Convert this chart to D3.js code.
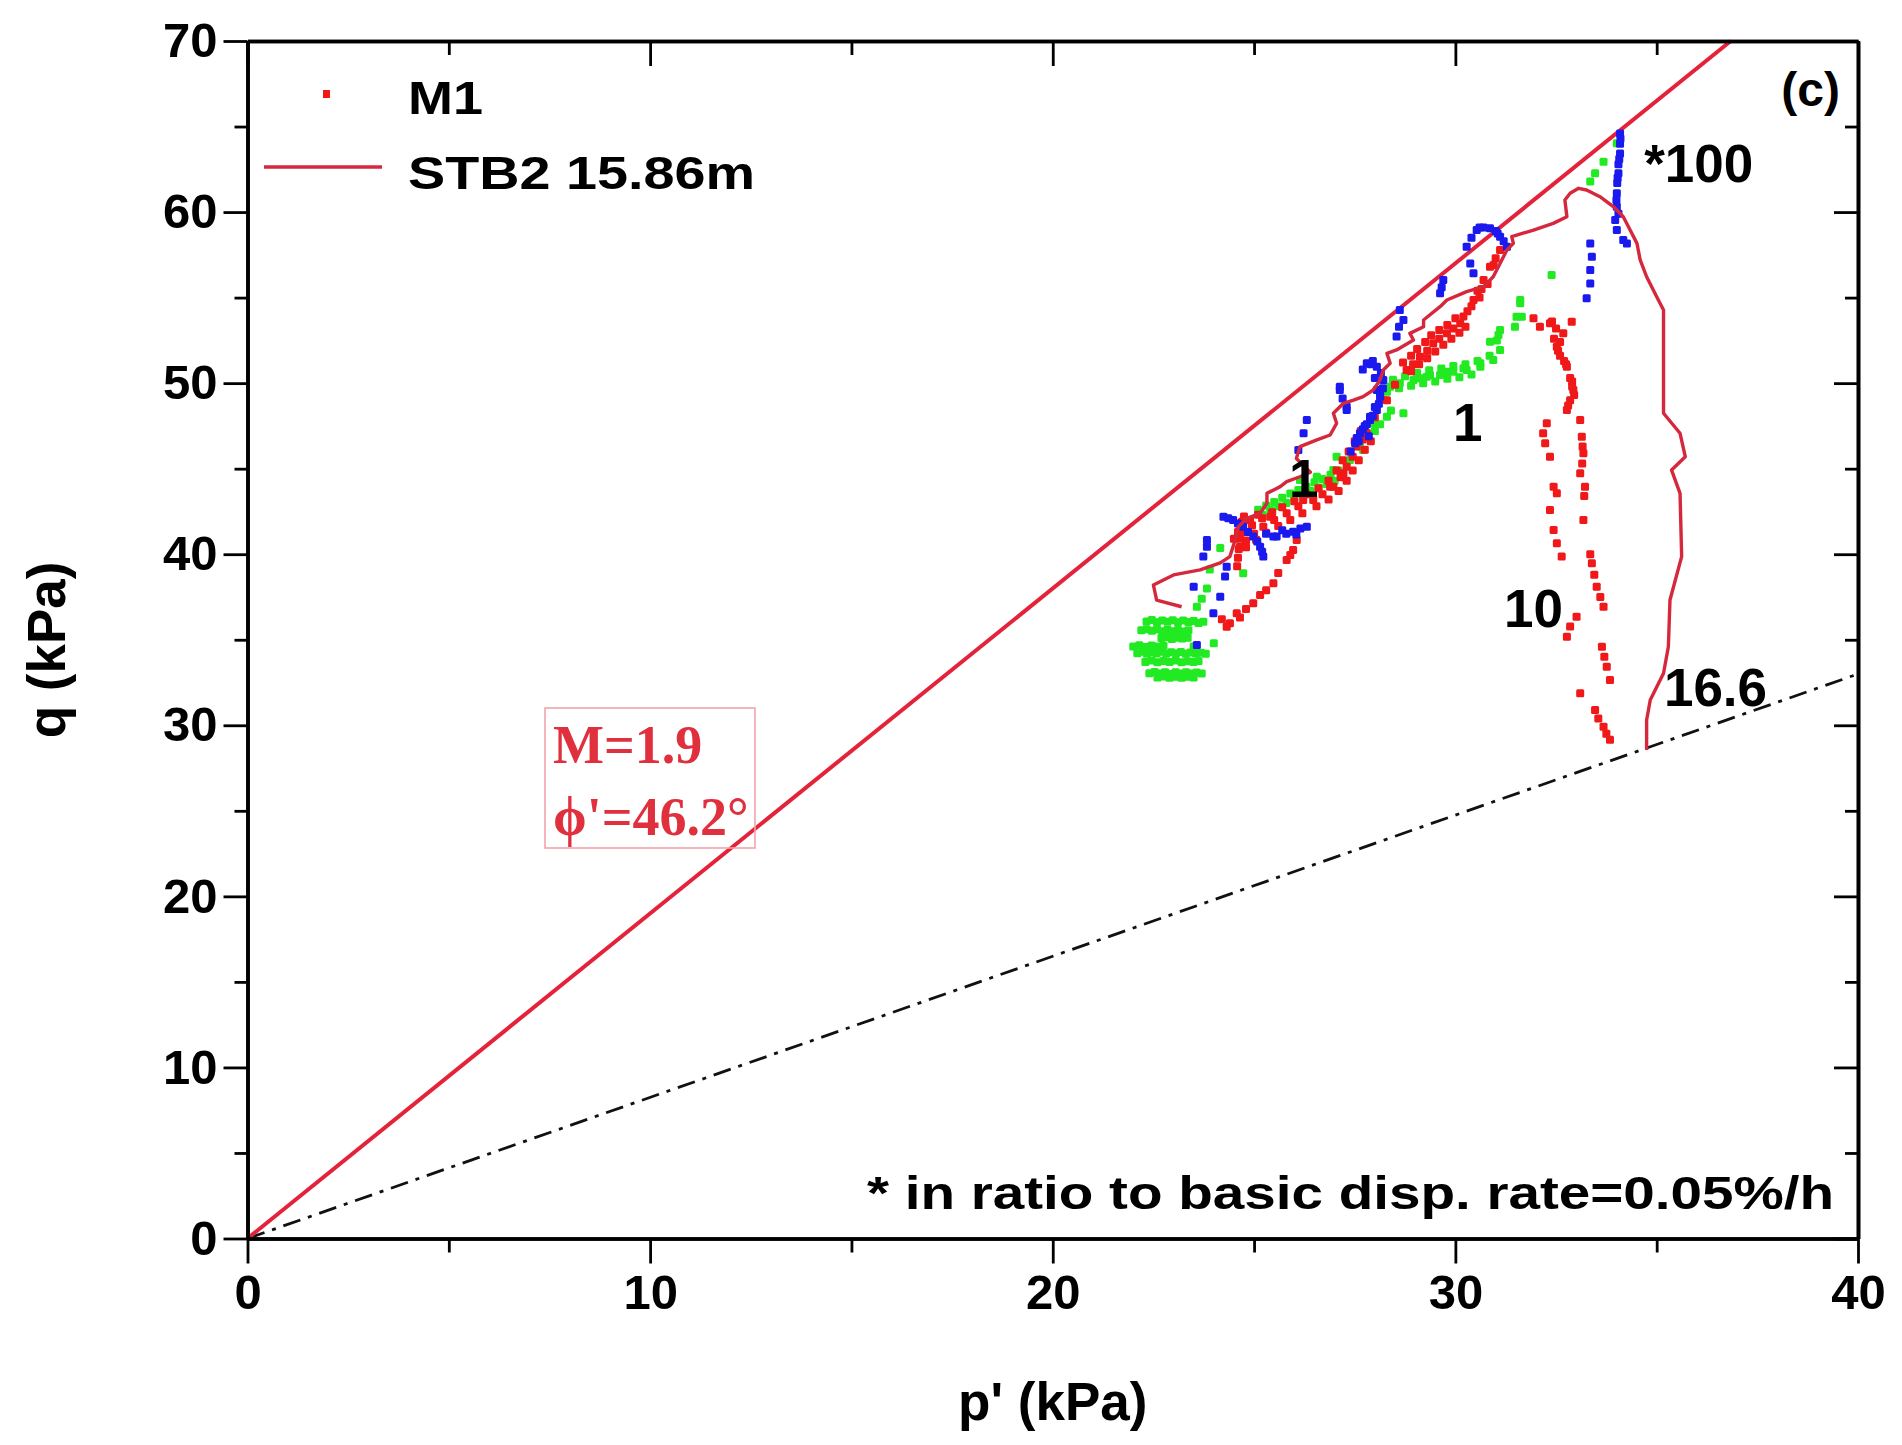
<!DOCTYPE html>
<html><head><meta charset="utf-8">
<script src="https://cdn.jsdelivr.net/npm/d3@7"></script>
<style>html,body{margin:0;padding:0;background:#fff;} svg{display:block;}</style>
</head><body>
<svg id="chart" width="1902" height="1445"></svg>
<script>
// ---------- data ----------
const xTicks = [0, 10, 20, 30, 40];
const xMinorTicks = [5, 15, 25, 35];
const yTicks = [0, 10, 20, 30, 40, 50, 60, 70];
const yMinorTicks = [5, 15, 25, 35, 45, 55, 65];
const xLabel = "p' (kPa)";
const yLabel = "q (kPa)";
const legendNames = ["M1", "STB2 15.86m"];

// critical state line M = 1.9 and dash-dot reference line
const cslLine = [[0, 0], [36.84, 70]];
const dashLine = [[0, 0], [40, 33]];

// STB2 15.86m stress path
const stb2 = [
 [23.20,36.93],[22.58,37.32],[22.50,38.20],[23.00,38.79],[23.66,39.08],[24.16,39.49],[24.40,39.86],
 [24.53,40.83],[24.61,41.61],[24.82,42.10],[25.15,42.39],[25.32,42.98],[25.32,43.56],[25.65,43.95],
 [25.81,44.24],[26.14,44.53],[26.40,44.80],[26.05,45.60],[26.14,46.29],[26.56,46.68],[26.89,46.97],
 [27.05,47.65],[26.97,48.24],[27.22,48.82],[27.47,49.01],[27.71,49.21],[27.96,49.60],[28.13,50.18],
 [28.21,50.77],[28.38,51.16],[28.30,51.74],[28.54,51.94],[28.96,52.52],[28.87,52.91],[29.21,53.30],
 [29.21,53.69],[29.62,54.47],[29.79,54.86],[30.28,55.35],[30.70,55.64],[30.94,56.22],[31.11,57.00],
 [31.28,57.78],[31.44,58.17],[31.40,58.56],[31.94,58.95],[32.43,59.34],[32.77,59.73],[32.72,60.71],
 [32.85,61.10],[33.06,61.39],[33.26,61.29],[33.59,60.90],[33.93,60.31],[34.17,59.73],[34.34,58.95],
 [34.51,58.17],[34.59,57.20],[34.75,56.22],[35.00,55.05],[35.17,54.28],[35.17,48.24],[35.58,47.07],
 [35.71,45.70],[35.37,44.92],[35.58,43.56],[35.62,39.86],[35.33,37.32],[35.29,34.59],[35.17,33.04],
 [34.84,31.48],[34.75,30.31],[34.75,28.56]
];

// M1 points, red
const m1Red = [
 [24.20,36.20],[24.32,35.76],[24.40,35.96],[24.57,36.55],[24.65,36.30],[24.80,36.80],[24.98,37.13],[25.15,37.62],
 [25.30,37.90],[25.48,38.30],[25.60,38.90],
 [25.81,39.66],[25.90,39.95],[25.97,40.25],[26.06,40.83],
 [24.58,39.30],[24.60,39.80],[24.62,40.30],[24.65,40.90],
 [24.65,40.44],[24.80,40.80],[25.00,41.20],[25.23,41.61],[25.50,42.00],[25.81,42.39],[26.10,42.80],[26.47,43.17],
 [26.70,43.50],[26.97,43.95],[27.15,44.50],[27.30,45.12],[27.45,45.70],[27.55,46.29],[27.70,46.70],[27.80,47.07],
 [24.50,40.90],[24.75,41.30],[24.95,41.70],[25.20,42.10],[25.45,42.45],[25.70,42.75],[26.00,43.10],[26.30,43.50],
 [26.60,43.85],[26.85,44.30],[27.05,44.90],[27.20,45.50],[27.35,46.00],[27.50,46.60],[27.65,47.20],
 [24.80,40.40],[25.05,40.85],[25.30,41.25],[25.60,41.65],[25.90,42.00],[26.20,42.40],[26.55,42.80],[26.85,43.20],
 [27.10,43.70],[27.30,44.30],[27.45,44.90],[27.60,45.50],[27.75,46.10],[27.90,46.60],
 [25.40,42.19],[26.22,43.17],[26.89,43.95],[27.22,44.73],[27.72,46.87],
 [24.90,42.00],[25.10,42.30],[24.70,41.90],[24.60,41.30],[24.75,42.20],
 [28.00,48.00],[28.30,49.00],[28.50,49.90],
 [28.79,50.77],[28.95,51.10],[29.12,51.55],[29.30,51.90],[29.45,52.33],[29.60,52.60],[29.79,52.91],[29.95,53.20],[30.12,53.50],
 [28.70,51.20],[28.90,51.60],[29.05,52.00],[29.25,52.40],[29.40,52.80],[29.60,53.10],[29.80,53.40],[30.00,53.80],
 [28.90,50.70],[29.10,51.10],[29.30,51.45],[29.50,51.85],[29.70,52.25],[29.90,52.60],[30.10,52.95],[30.25,53.30],
 [30.30,54.20],[30.45,54.86],[30.55,55.40],[30.70,56.03],[30.86,56.81],[31.00,57.30],[31.11,57.78],[30.60,55.00],[30.80,55.80],
 [30.20,53.90],[30.40,54.50],[30.65,55.50],[30.95,56.90],
 // right descending path
 [31.94,53.79],[32.10,53.30],[32.35,53.50],[32.40,53.60],[32.89,53.59],[32.68,52.91],[32.50,53.20],[32.45,52.60],
 [32.52,52.13],[32.55,51.90],[32.60,51.60],[32.70,51.30],[32.77,50.96],[32.85,50.30],[32.90,50.10],[32.93,49.60],
 [32.95,49.30],[32.85,49.00],[32.80,48.70],[32.77,48.43],[32.60,52.40],[32.75,51.10],[32.90,49.80],
 [33.10,47.85],[33.14,46.87],[33.16,46.30],[33.18,45.90],
 [33.15,45.30],[33.10,44.73],[33.22,43.95],[33.20,43.40],[33.18,42.00],[33.35,40.00],[33.39,39.47],[33.45,38.80],
 [33.51,38.10],[33.60,37.50],[33.68,36.93],[33.64,34.59],[33.70,34.00],[33.76,33.42],[33.84,32.65],[33.47,30.89],
 [33.55,30.40],[33.68,29.92],[33.75,29.50],[33.84,29.15],
 // left descending path
 [32.27,47.65],[32.18,47.07],[32.23,46.48],[32.35,45.70],[32.44,43.95],[32.52,43.56],[32.35,42.58],[32.44,41.42],
 [32.52,40.64],[32.64,39.86],[33.01,36.35],[32.85,35.77],[32.77,35.18],[33.10,31.87]
];

// M1 points, green
const m1Green = [
 // lower-left cluster (horizontal streaks)
 [22.33,36.06],[22.46,36.15],[22.59,36.02],[22.72,36.12],[22.85,36.05],[22.98,36.14],[23.11,36.03],[23.24,36.12],[23.37,36.04],[23.50,36.10],[23.62,35.98],[23.74,36.05],
 [22.20,35.55],[22.33,35.62],[22.46,35.52],[22.59,35.60],[22.72,35.50],[22.85,35.58],[22.98,35.50],[23.11,35.57],[23.24,35.48],[23.37,35.55],
 [22.70,35.10],[22.83,35.15],[22.96,35.05],[23.09,35.12],[23.22,35.08],[23.35,35.12],
 [22.10,34.21],[22.22,34.30],[22.34,34.18],[22.46,34.28],[22.58,34.20],[22.70,34.30],[22.82,34.18],[22.94,34.27],[23.06,34.20],
 [23.18,34.28],[23.30,34.18],[23.42,34.26],[23.55,34.20],[23.68,34.24],[23.80,34.18],
 [22.00,34.60],[22.15,34.68],[22.30,34.58],[22.45,34.66],[22.60,34.60],[22.75,34.65],[23.50,34.60],
 [22.30,33.70],[22.45,33.78],[22.60,33.68],[22.75,33.76],[22.90,33.70],[23.05,33.78],[23.20,33.68],[23.35,33.75],[23.50,33.70],[23.62,33.76],
 [22.40,33.04],[22.53,33.12],[22.66,33.02],[22.79,33.10],[22.92,33.00],[23.05,33.10],[23.18,33.02],[23.31,33.10],[23.44,33.02],[23.57,33.08],[23.70,33.03],
 [22.60,32.80],[22.75,32.85],[22.90,32.78],[23.05,32.84],[23.20,32.78],[23.35,32.84],[23.50,32.80],
 [23.58,36.93],[23.83,38.00],[24.16,40.36],[24.73,38.88],[23.70,37.40],[23.90,39.10],[24.00,34.80],
 // main band
 [25.20,42.30],[25.40,42.60],[25.60,42.80],[25.80,43.00],[26.00,43.30],[26.20,43.50],[26.40,43.70],[26.60,43.90],
 [26.80,44.10],[27.00,44.30],[27.20,44.60],
 [25.10,42.60],[25.30,42.85],[25.50,43.05],[25.70,43.30],[25.90,43.55],[26.10,43.75],[26.30,43.95],[26.50,44.20],
 [26.70,44.40],[26.90,44.65],[27.10,44.90],
 [26.14,44.34],[26.56,44.53],[26.97,44.92],[27.38,45.51],[27.63,46.29],[27.80,47.07],[27.96,47.65],[28.30,48.04],
 [27.05,45.70],[27.71,46.09],[28.13,47.60],[28.71,48.24],[28.40,48.40],[28.00,47.20],
 [28.21,49.01],[28.38,49.79],[28.62,49.99],[28.96,50.18],[29.29,50.38],[29.62,50.47],[29.95,50.67],[30.28,50.77],
 [30.62,50.96],[30.94,51.35],[31.11,51.94],[31.03,52.50],[31.11,53.10],[31.52,53.88],[31.61,54.67],
 [28.30,49.50],[28.60,49.70],[28.90,49.85],[29.20,50.00],[29.50,50.10],[29.80,50.25],[30.10,50.35],[30.40,50.50],
 [28.45,50.20],[28.75,50.40],[29.05,50.60],[29.35,50.75],[29.65,50.85],[29.95,51.00],[30.25,51.10],[30.55,51.30],[30.85,51.60],
 [29.12,50.28],[29.37,50.47],[29.79,50.67],[30.20,50.87],[30.62,51.16],[30.86,52.42],[31.07,52.81],[31.48,53.30],
 [31.65,53.88],[31.61,54.86],[32.39,56.32],
 [33.35,61.78],[33.47,62.27],[33.68,62.94],[34.01,64.02]
];

// M1 points, blue
const m1Blue = [
 [23.50,38.10],[23.74,39.86],[23.83,40.44],[23.83,40.83],[23.58,34.69],[23.99,36.55],[24.16,37.52],[24.28,38.69],[24.32,39.27],
 [24.24,42.19],[24.48,42.00],[24.73,41.61],[24.98,41.03],[25.15,40.44],[25.23,39.86],[24.36,42.10],[24.60,41.80],[24.85,41.30],
 [25.08,40.75],[25.20,40.15],
 [25.30,41.20],[25.56,41.03],[25.80,41.20],[25.97,41.32],[26.15,41.50],[26.31,41.61],[25.48,41.03],[25.70,41.40],[26.05,41.15],
 [26.31,47.85],[26.23,47.07],[26.10,46.09],
 [27.13,49.60],[27.20,49.10],[27.30,48.62],[27.13,49.79],[27.30,48.43],
 [27.40,46.00],[27.51,46.48],[27.55,46.80],[27.63,47.07],[27.70,47.30],[27.75,47.50],[27.88,47.85],[27.95,48.10],
 [28.05,48.43],[28.10,48.80],[28.13,49.21],[28.20,49.70],[28.21,50.18],[28.15,50.60],[28.05,50.96],[27.90,51.10],
 [27.80,51.16],[27.95,51.30],[27.88,48.04],[28.13,49.40],
 [27.60,46.60],[27.80,47.60],[28.00,48.60],[28.05,49.60],[28.00,50.30],[27.70,50.80],[27.85,46.90],
 [28.54,52.72],[28.62,54.28],[28.71,53.69],[28.60,53.30],
 [29.62,55.25],[29.70,56.03],[29.66,55.60],[30.37,57.00],[30.45,56.42],[30.28,57.98],[30.40,58.50],[30.53,58.95],
 [30.70,59.10],[30.86,59.05],[31.00,58.90],[31.11,58.56],[31.20,58.30],[31.28,57.98],[30.60,59.10],[31.05,58.75],
 [34.09,64.60],[34.09,64.00],[34.09,63.43],[34.05,62.80],[34.05,62.27],[34.02,61.70],[34.01,61.10],[34.01,60.31],
 [34.05,59.90],[33.97,59.54],[34.01,58.95],[34.17,58.37],[34.26,58.17],[34.10,64.30],[34.07,63.10],[34.03,62.00],[34.00,60.70],
 [33.35,58.17],[33.39,57.39],[33.35,56.61],[33.35,55.83],[33.26,54.96]
];

// text annotations (data units)
const annotations = [
 {text: "*100", p: 34.69, q: 61.76},
 {text: "1", p: 29.94, q: 46.62},
 {text: "1", p: 25.87, q: 43.35},
 {text: "10", p: 31.21, q: 35.75},
 {text: "16.6", p: 35.18, q: 31.13}
];
const panelTag = "(c)";
const noteText = "* in ratio to basic disp. rate=0.05%/h";
const boxLines = ["M=1.9", "\u03D5'=46.2\u00B0"];

// ---------- drawing ----------
const svg = d3.select("#chart");
const L = 247.5, R = 1858, T = 41, B = 1238.5;
const x = d3.scaleLinear().domain([0, 40]).range([L, R]);
const y = d3.scaleLinear().domain([0, 70]).range([B, T]);
const FONT = "'Liberation Sans', Arial, sans-serif";
const RED_DOT = "#f01818", GREEN = "#22ea22", BLUE = "#1a1aee", CSL = "#e4233b", STB = "#d6283c";

const plot = svg.append("g");

// dash-dot line
plot.append("path").datum(dashLine)
  .attr("d", d3.line().x(d => x(d[0])).y(d => y(d[1])))
  .attr("fill", "none").attr("stroke", "#111").attr("stroke-width", 2.8)
  .attr("stroke-dasharray", "18,8,4,8");

// CSL line
plot.append("path").datum(cslLine)
  .attr("d", d3.line().x(d => x(d[0])).y(d => y(d[1])))
  .attr("fill", "none").attr("stroke", CSL).attr("stroke-width", 4);

// point series
const DS = 8;
function dots(data, color) {
  plot.append("g").selectAll("rect").data(data).join("rect")
    .attr("x", d => x(d[0]) - DS / 2).attr("y", d => y(d[1]) - DS / 2)
    .attr("width", DS).attr("height", DS).attr("rx", 1.5).attr("fill", color);
}
dots(m1Green, GREEN);
dots(m1Red, RED_DOT);
dots(m1Blue, BLUE);

// STB2 path
plot.append("path").datum(stb2)
  .attr("d", d3.line().x(d => x(d[0])).y(d => y(d[1])))
  .attr("fill", "none").attr("stroke", STB).attr("stroke-width", 3.4)
  .attr("stroke-linejoin", "round");

// axes
function styleAxis(g) {
  g.select(".domain").attr("stroke", "#000").attr("stroke-width", 3.6);
  g.selectAll(".tick line").attr("stroke", "#000").attr("stroke-width", 2.8);
  g.selectAll(".tick text").attr("font-family", FONT).attr("font-weight", "bold")
    .attr("font-size", 49).attr("fill", "#000");
}
svg.append("g").attr("transform", `translate(0,${B})`)
  .call(d3.axisBottom(x).tickValues(xTicks).tickSize(25).tickSizeOuter(0).tickPadding(11).tickFormat(d3.format("d")))
  .call(styleAxis);
svg.append("g").attr("transform", `translate(0,${B})`)
  .call(d3.axisBottom(x).tickValues(xMinorTicks).tickSize(14).tickSizeOuter(0).tickFormat(""))
  .call(styleAxis);
svg.append("g").attr("transform", `translate(0,${T})`)
  .call(d3.axisTop(x).tickValues(xTicks).tickSize(-25).tickSizeOuter(0).tickFormat(""))
  .call(styleAxis);
svg.append("g").attr("transform", `translate(0,${T})`)
  .call(d3.axisTop(x).tickValues(xMinorTicks).tickSize(-14).tickSizeOuter(0).tickFormat(""))
  .call(styleAxis);
svg.append("g").attr("transform", `translate(${L},0)`)
  .call(d3.axisLeft(y).tickValues(yTicks).tickSize(24).tickSizeOuter(0).tickPadding(6).tickFormat(d3.format("d")))
  .call(styleAxis);
svg.append("g").attr("transform", `translate(${L},0)`)
  .call(d3.axisLeft(y).tickValues(yMinorTicks).tickSize(13).tickSizeOuter(0).tickFormat(""))
  .call(styleAxis);
svg.append("g").attr("transform", `translate(${R},0)`)
  .call(d3.axisRight(y).tickValues(yTicks).tickSize(-24).tickSizeOuter(0).tickFormat(""))
  .call(styleAxis);
svg.append("g").attr("transform", `translate(${R},0)`)
  .call(d3.axisRight(y).tickValues(yMinorTicks).tickSize(-13).tickSizeOuter(0).tickFormat(""))
  .call(styleAxis);

// axis titles
svg.append("text").attr("x", (L + R) / 2).attr("y", 1420).attr("text-anchor", "middle")
  .attr("font-family", FONT).attr("font-weight", "bold").attr("font-size", 53).text(xLabel);
svg.append("text").attr("transform", `translate(65,650) rotate(-90)`).attr("text-anchor", "middle")
  .attr("font-family", FONT).attr("font-weight", "bold").attr("font-size", 53).text(yLabel);

// legend
svg.append("rect").attr("x", 323).attr("y", 90).attr("width", 7).attr("height", 8).attr("fill", RED_DOT);
svg.append("text").attr("x", 408).attr("y", 114).attr("font-family", FONT).attr("font-weight", "bold")
  .attr("font-size", 47).attr("textLength", 75).attr("lengthAdjust", "spacingAndGlyphs").text(legendNames[0]);
svg.append("line").attr("x1", 264).attr("x2", 382).attr("y1", 167).attr("y2", 167)
  .attr("stroke", STB).attr("stroke-width", 3.6);
svg.append("text").attr("x", 408).attr("y", 189).attr("font-family", FONT).attr("font-weight", "bold")
  .attr("font-size", 47).attr("textLength", 347).attr("lengthAdjust", "spacingAndGlyphs").text(legendNames[1]);

// panel tag
svg.append("text").attr("x", 1840).attr("y", 106).attr("text-anchor", "end")
  .attr("font-family", FONT).attr("font-weight", "bold").attr("font-size", 48).text(panelTag);

// annotations
svg.append("g").selectAll("text").data(annotations).join("text")
  .attr("x", d => x(d.p)).attr("y", d => y(d.q))
  .attr("font-family", FONT).attr("font-weight", "bold").attr("font-size", 53).text(d => d.text);

// note
svg.append("text").attr("x", 867).attr("y", 1209).attr("font-family", FONT).attr("font-weight", "bold")
  .attr("font-size", 46).attr("textLength", 967).attr("lengthAdjust", "spacingAndGlyphs").text(noteText);

// M / phi box
svg.append("rect").attr("x", 545).attr("y", 708).attr("width", 210).attr("height", 140)
  .attr("fill", "none").attr("stroke", "#f2a3ab").attr("stroke-width", 1.6);
svg.append("g").selectAll("text").data(boxLines).join("text")
  .attr("x", 553).attr("y", (d, i) => 763 + i * 72)
  .attr("font-family", "'Liberation Serif', 'Times New Roman', serif").attr("font-weight", "bold")
  .attr("font-size", 54).attr("fill", "#e0303e").text(d => d);
</script>
</body></html>
